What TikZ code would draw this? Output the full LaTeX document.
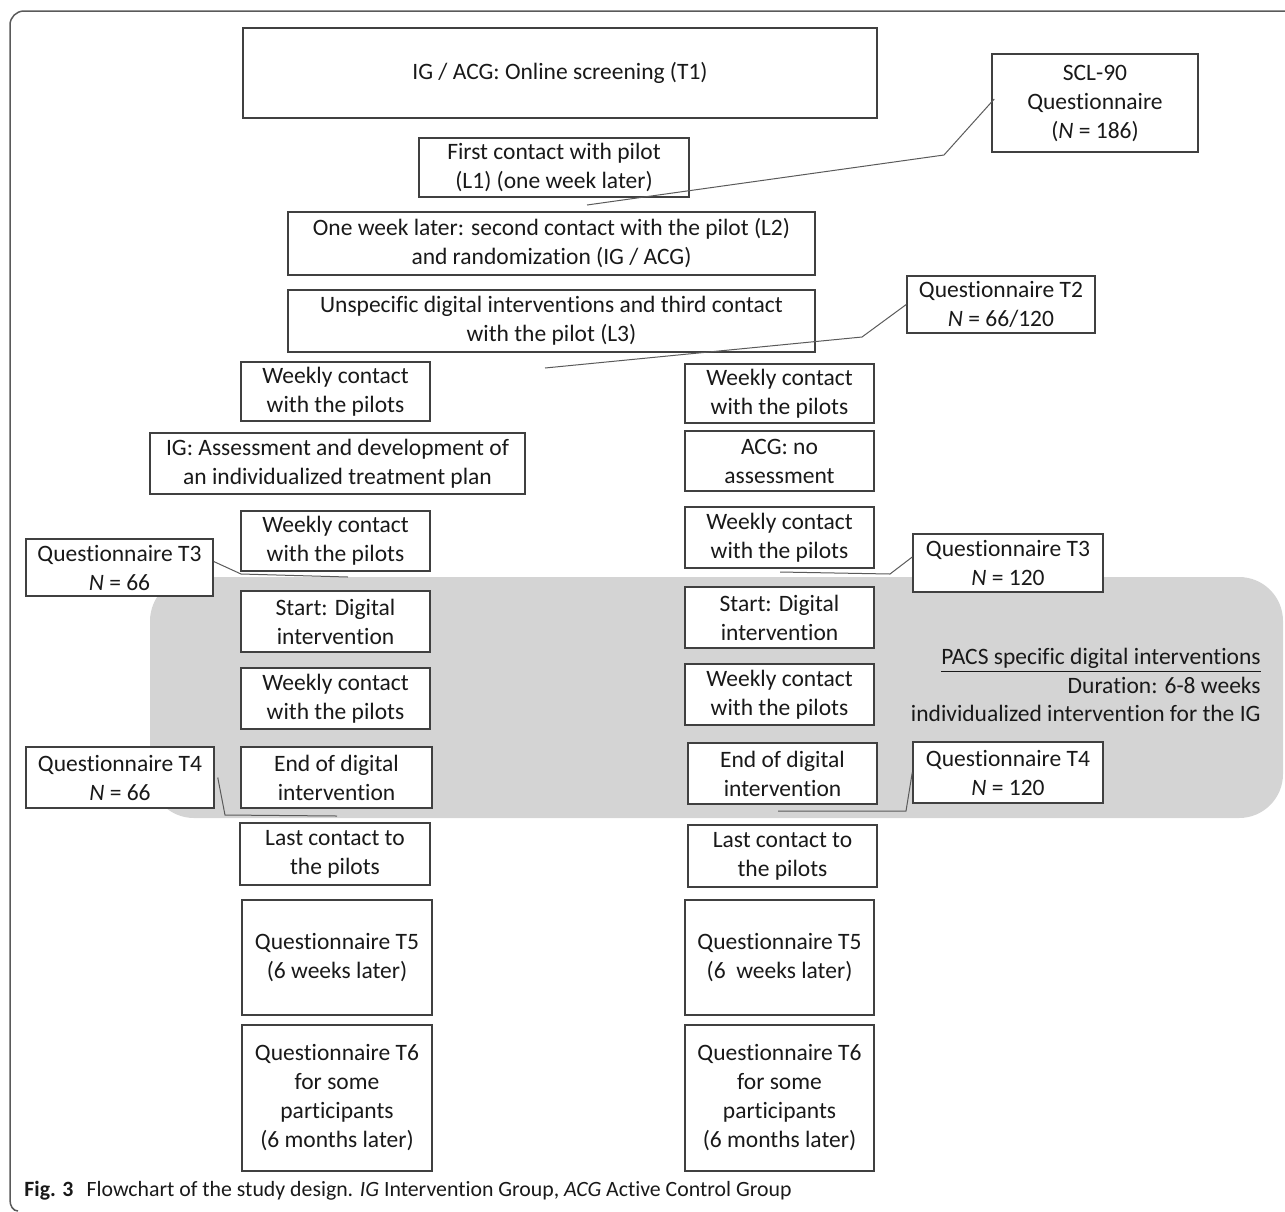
\documentclass[tikz,border=0pt]{standalone}
\usepackage{fontspec}
\setmainfont{Carlito}[RawFeature=-liga]
\definecolor{linec}{RGB}{64,64,64}
\definecolor{connc}{RGB}{90,90,90}
\definecolor{txtc}{RGB}{25,25,25}
\definecolor{pacsfill}{RGB}{212,212,212}
\newcommand\mybx[6]{\node[box, minimum width={(#4-#2)*0.5pt}, minimum height={(#5-#3)*0.5pt}] (#1) at ({(#2+#4)/2},{(#3+#5)/2}) {#6};}
\begin{document}
\begin{tikzpicture}[x=0.5pt,y=-0.5pt,
  box/.style={draw=linec, fill=white, line width=0.75pt, inner sep=0pt, align=center, text=txtc, font=\fontsize{11.75}{14.5}\selectfont},
  conn/.style={draw=connc, line width=0.5pt},
  frame/.style={draw=connc, line width=0.75pt}]
\useasboundingbox (0,0) rectangle (1285,1211);
% outer frame
\draw[frame] (1285,11) -- (24,11) arc[start angle=90, end angle=180, radius=7pt] -- (10,1200) to[out=-90,in=180] (18,1211);
% grey band
\fill[pacsfill, rounded corners=22pt] (150,577) rectangle (1283,818);
% boxes
\mybx{t1}{243}{28}{877}{118}{IG / ACG: Online screening (T1)}
\mybx{scl}{992}{54}{1198}{152}{SCL-90\\Questionnaire\\(\textit{N} = 186)}
\mybx{l1}{419}{138}{689}{197}{First contact with pilot\\(L1) (one week later)}
\mybx{l2}{288}{212}{815}{275}{One week later: second contact with the pilot (L2)\\and randomization (IG / ACG)}
\mybx{l3}{288}{290}{815}{352}{Unspecific digital interventions and third contact\\with the pilot (L3)}
\mybx{t2}{907}{276}{1095}{333}{Questionnaire T2\\\textit{N} = 66/120}
\mybx{lw1}{241}{362}{430}{421}{Weekly contact\\with the pilots}
\mybx{rw1}{685}{364}{874}{423}{Weekly contact\\with the pilots}
\mybx{ig}{150}{433}{525}{494}{IG: Assessment and development of\\an individualized treatment plan}
\mybx{acg}{685}{431}{874}{491}{ACG: no\\assessment}
\mybx{lw2}{241}{511}{430}{571}{Weekly contact\\with the pilots}
\mybx{rw2}{685}{507}{874}{568}{Weekly contact\\with the pilots}
\mybx{lt3}{26}{539}{213}{596}{Questionnaire T3\\\textit{N} = 66}
\mybx{rt3}{913}{534}{1103}{592}{Questionnaire T3\\\textit{N} = 120}
\mybx{ls}{241}{591}{430}{652}{Start: Digital\\intervention}
\mybx{rs}{685}{587}{874}{648}{Start: Digital\\intervention}
\mybx{lw3}{241}{668}{430}{729}{Weekly contact\\with the pilots}
\mybx{rw3}{685}{664}{874}{725}{Weekly contact\\with the pilots}
\mybx{le}{241}{747}{432}{808}{End of digital\\intervention}
\mybx{re}{688}{743}{877}{804}{End of digital\\intervention}
\mybx{lt4}{26}{747}{214}{808}{Questionnaire T4\\\textit{N} = 66}
\mybx{rt4}{913}{742}{1103}{803}{Questionnaire T4\\\textit{N} = 120}
\mybx{ll}{240}{823}{430}{885}{Last contact to\\the pilots}
\mybx{rl}{688}{825}{877}{887}{Last contact to\\the pilots}
\mybx{lt5}{242}{900}{432}{1015}{Questionnaire T5\\(6 weeks later)}
\mybx{rt5}{685}{900}{874}{1015}{Questionnaire T5\\(6~ weeks later)}
\mybx{lt6}{242}{1025}{432}{1171}{Questionnaire T6\\for some\\participants\\(6 months later)}
\mybx{rt6}{685}{1025}{874}{1171}{Questionnaire T6\\for some\\participants\\(6 months later)}
% PACS text
\node[anchor=east, align=right, inner sep=0pt, text=txtc, font=\fontsize{11.75}{14.3}\selectfont] (pacs) at (1261,685) {\underline{PACS specific digital interventions}\\Duration: 6-8 weeks\\individualized intervention for the IG};
% connector free ends
\coordinate (e1) at (587,205);
\coordinate (e2) at (545,368);
\coordinate (e3) at (348,577);
\coordinate (e4) at (780,572);
\coordinate (e5) at (337,816);
\coordinate (e6) at (778,811);
\draw[conn] ([xshift=1.5pt,yshift=2pt]scl.west) -- (944,155) -- (e1);
\draw[conn] (t2.west) -- (862,337) -- (e2);
\draw[conn] ([yshift=3pt]lt3.east) -- (241,574) -- (e3);
\draw[conn] ([yshift=3pt]rt3.west) -- (890,574) -- (e4);
\draw[conn] ([xshift=1.5pt]lt4.east) -- (225,815) -- (e5);
\draw[conn] (rt4.west) -- (906,811) -- (e6);
% caption
\node[anchor=base west, inner sep=0pt, text=txtc, font=\fontsize{10.9}{13}\selectfont] (cap) at (24,1196) {\textbf{Fig. 3}\hspace{0.6em}Flowchart of the study design. \textit{IG} Intervention Group, \textit{ACG} Active Control Group};
\end{tikzpicture}
\end{document}
